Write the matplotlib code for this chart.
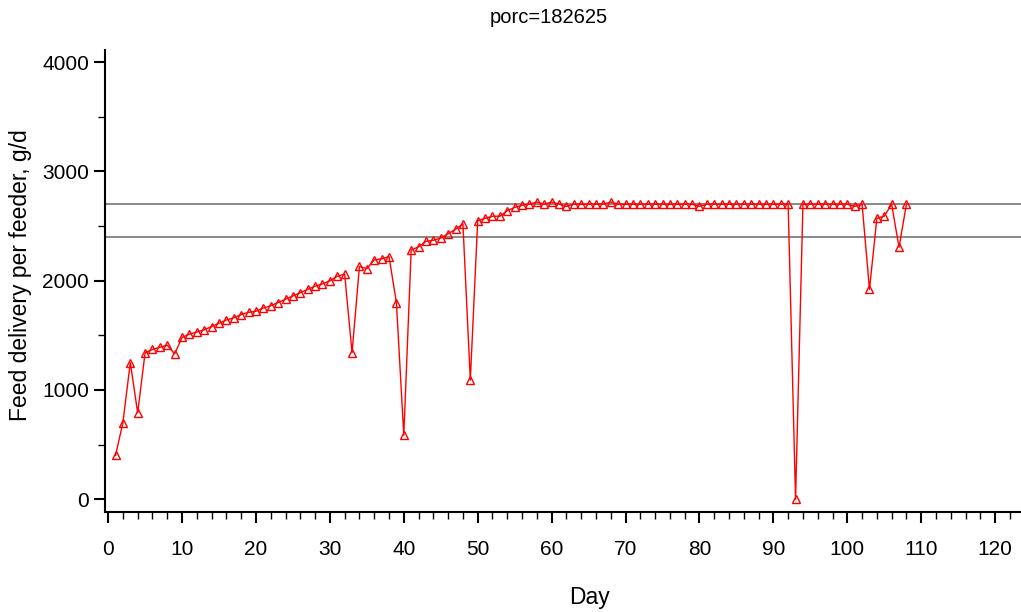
import matplotlib.pyplot as plt
from matplotlib.ticker import MultipleLocator

plt.rcParams['font.family'] = ['Liberation Sans', 'DejaVu Sans']

# days and feed delivery (g/d)
days = list(range(1, 109))
feed = [400, 700, 1250, 790, 1340, 1370, 1390, 1410, 1330, 1480,
        1510, 1530, 1550, 1580, 1610, 1640, 1660, 1690, 1710, 1720,
        1750, 1770, 1800, 1830, 1860, 1890, 1920, 1950, 1970, 2000,
        2040, 2060, 1340, 2130, 2110, 2190, 2200, 2220, 1800, 585,
        2280, 2310, 2360, 2370, 2390, 2430, 2470, 2520, 1090, 2550,
        2570, 2590, 2590, 2640, 2670, 2690, 2700, 2720, 2700, 2720,
        2700, 2680, 2700, 2700, 2700, 2700, 2700, 2720, 2700, 2700,
        2700, 2700, 2700, 2700, 2700, 2700, 2700, 2700, 2700, 2680,
        2700, 2700, 2700, 2700, 2700, 2700, 2700, 2700, 2700, 2700,
        2700, 2700, 0, 2700, 2700, 2700, 2700, 2700, 2700, 2700,
        2680, 2700, 1920, 2570, 2590, 2700, 2305, 2700]
ref_lines = [2700, 2400]
title = 'porc=182625'

fig = plt.figure(figsize=(10.21, 6.12), dpi=100)
ax = fig.add_axes([0.103, 0.163, 0.897, 0.755])

for r in ref_lines:
    ax.axhline(r, color='#808080', linewidth=1.3, zorder=1)

ax.plot(days, feed, color='red', linewidth=1, marker='^', markersize=6,
        markerfacecolor='none', markeredgecolor='red', markeredgewidth=1, zorder=3)

ax.set_xlim(-0.4, 123.5)
ax.set_ylim(-120, 4110)
ax.xaxis.set_major_locator(MultipleLocator(10))
ax.xaxis.set_minor_locator(MultipleLocator(2))
ax.yaxis.set_major_locator(MultipleLocator(1000))
ax.yaxis.set_minor_locator(MultipleLocator(500))

ax.spines['top'].set_visible(False)
ax.spines['right'].set_visible(False)
ax.spines['left'].set_linewidth(1.5)
ax.spines['bottom'].set_linewidth(1.5)
ax.tick_params(which='major', length=8, width=1.5, labelsize=15)
ax.tick_params(which='minor', length=5, width=1)
ax.tick_params(axis='x', which='major', pad=12)
ax.tick_params(axis='y', which='major', pad=3.5)

fig.text(0.0196, 0.551, 'Feed delivery per feeder, g/d', fontsize=16.5,
         rotation=90, ha='center', va='center')
fig.text(0.577, 0.0245, 'Day', fontsize=16.5, ha='center', va='center')
fig.text(0.537, 0.971, title, fontsize=14.5, ha='center', va='center')

fig.savefig('out.png', dpi=100)
